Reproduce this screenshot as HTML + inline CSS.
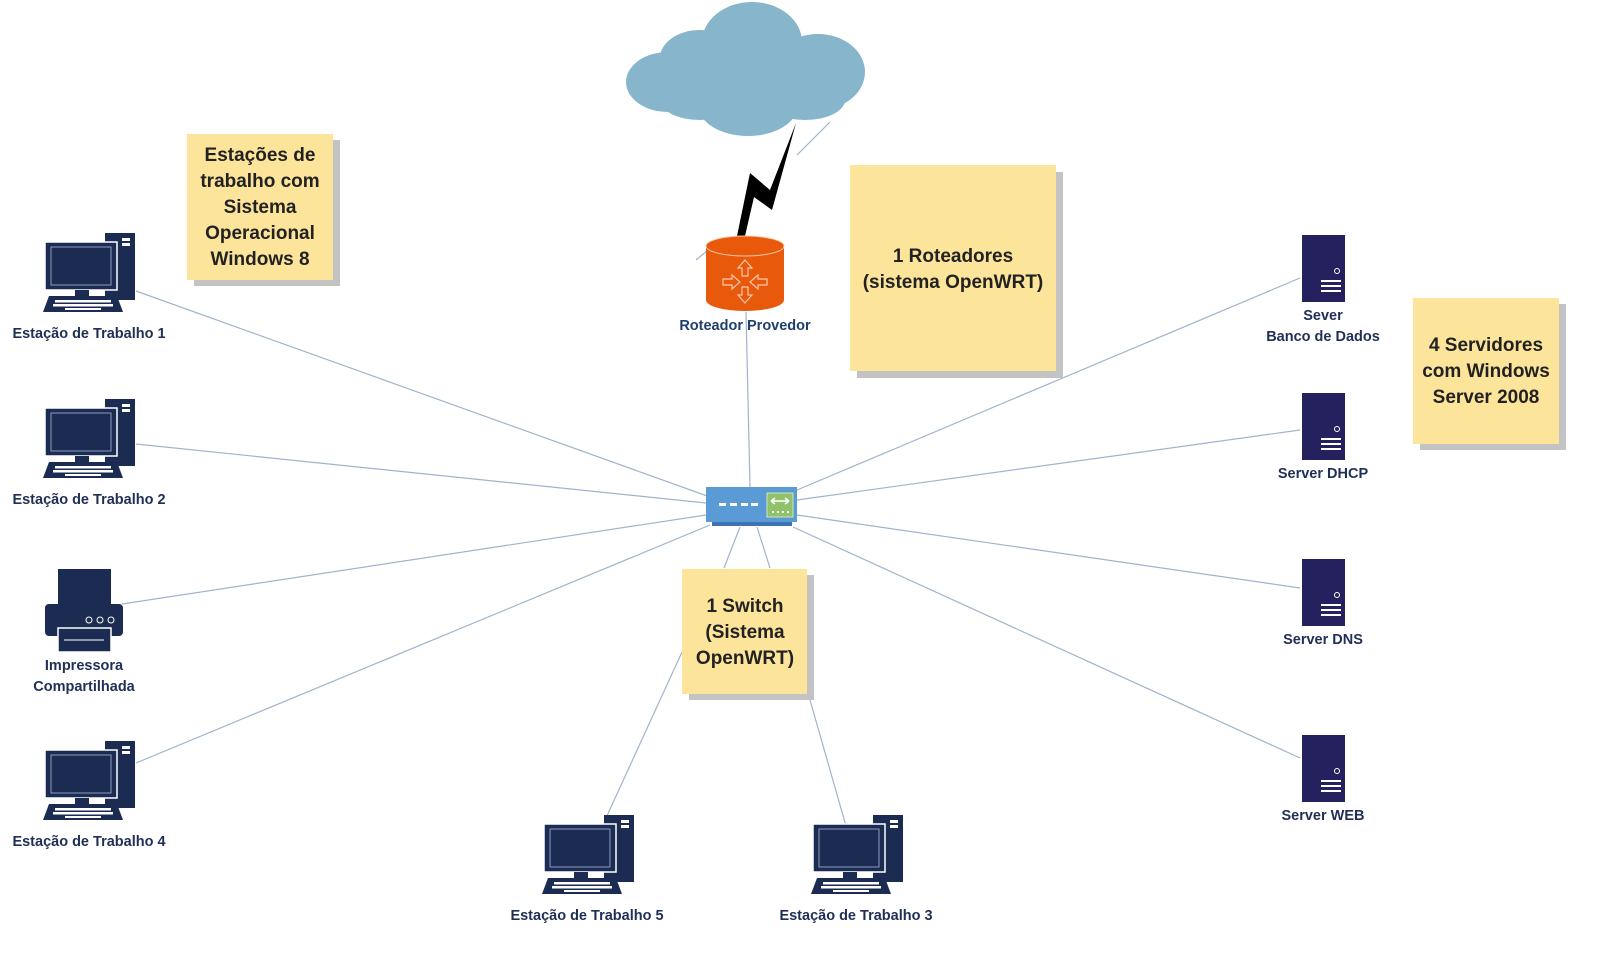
<!DOCTYPE html>
<html><head><meta charset="utf-8"><style>
body{margin:0;background:#fff;width:1600px;height:953px;overflow:hidden;font-family:"Liberation Sans",sans-serif}
svg text{font-family:"Liberation Sans",sans-serif;font-weight:bold}
</style></head><body>
<svg width="1600" height="953" viewBox="0 0 1600 953" xmlns="http://www.w3.org/2000/svg">
<defs>
<g id="pc">
<rect x="60" y="0" width="30" height="67" fill="#1c2b52"/>
<rect x="77" y="5" width="8" height="3" fill="#fff"/><rect x="77" y="10" width="8" height="3" fill="#fff"/>
<rect x="0" y="9" width="72" height="48" fill="#1c2b52" stroke="#fff" stroke-width="1.5"/>
<rect x="6" y="14" width="60" height="38" fill="none" stroke="#8a9bc0" stroke-width="1"/>
<rect x="30" y="57" width="14" height="6" fill="#1c2b52"/>
<path d="M4 63 H72 L78 79 H-2 Z" fill="#1c2b52"/>
<g fill="#fff"><rect x="10" y="67" width="56" height="2.5"/><rect x="8" y="71" width="60" height="2.5"/><rect x="20" y="75" width="36" height="2"/></g>
</g>
<g id="srv">
<rect x="0" y="0" width="43" height="67" fill="#25215f"/>
<circle cx="35" cy="36" r="2.5" fill="none" stroke="#fff" stroke-width="1"/>
<g fill="#fff"><rect x="19" y="45" width="20" height="2"/><rect x="19" y="50" width="20" height="2"/><rect x="19" y="55" width="20" height="2"/></g>
</g>
</defs>
<g stroke="#9fb4cc" stroke-width="1.2" fill="none">
<line x1="136" y1="291" x2="710" y2="497"/>
<line x1="136" y1="444" x2="706" y2="503"/>
<line x1="122" y1="604" x2="706" y2="515"/>
<line x1="136" y1="763" x2="710" y2="525"/>
<line x1="1300" y1="278" x2="797" y2="490"/>
<line x1="1300" y1="430" x2="797" y2="500"/>
<line x1="797" y1="515" x2="1300" y2="588"/>
<line x1="793" y1="527" x2="1300" y2="758"/>
<line x1="750" y1="487" x2="746" y2="312"/>
<line x1="740" y1="527" x2="724" y2="568"/>
<line x1="757" y1="527" x2="770" y2="568"/>
<line x1="682" y1="652" x2="606" y2="818"/>
<line x1="810" y1="700" x2="846" y2="826"/>
<line x1="696" y1="260" x2="720" y2="240"/>
<line x1="797" y1="155" x2="830" y2="122"/>
</g>
<g fill="#87b5cc">
<ellipse cx="668" cy="82" rx="42" ry="30"/>
<ellipse cx="700" cy="58" rx="40" ry="28"/>
<ellipse cx="752" cy="42" rx="50" ry="40"/>
<ellipse cx="818" cy="72" rx="47" ry="38"/>
<ellipse cx="748" cy="105" rx="50" ry="31"/>
<ellipse cx="700" cy="100" rx="40" ry="20"/>
<ellipse cx="805" cy="100" rx="40" ry="20"/>
</g>
<polygon points="796,123 770,190 750,173 737,236 745,236 754,197 772,210" fill="#000"/>
<path d="M706 246 V300 A39 11 0 0 0 784 300 V246 Z" fill="#e8590c"/>
<ellipse cx="745" cy="246" rx="39" ry="10" fill="#e8590c" stroke="#f8c8a8" stroke-width="1"/>
<g stroke="#f8c8a8" fill="none" stroke-width="1.2">
<path d="M745 260 L738 268 H742 V276 H748 V268 H752 Z"/>
<path d="M745 303 L738 295 H742 V287 H748 V295 H752 Z"/>
<path d="M740 282 L732 275 V279 H723 V285 H732 V289 Z"/>
<path d="M750 282 L758 275 V279 H767 V285 H758 V289 Z"/>
</g>
<text x="745" y="330" font-size="14.5" fill="#1f3f6e" text-anchor="middle">Roteador Provedor</text>
<rect x="712" y="521" width="80" height="5" fill="#3d72b5"/>
<rect x="706" y="487" width="91" height="35" fill="#5b9bd5"/>
<rect x="767" y="493" width="26" height="24" fill="#8fc26b" stroke="#cfe6bd"/>
<path d="M771 501 H789 M771 501 l4 -3 M771 501 l4 3 M789 501 l-4 -3 M789 501 l-4 3" stroke="#fff" stroke-width="1.5" fill="none"/>
<g fill="#fff"><rect x="719" y="503" width="7" height="3"/><rect x="730" y="503" width="7" height="3"/><rect x="741" y="503" width="7" height="3"/><rect x="751" y="503" width="7" height="3"/>
<rect x="772" y="511" width="2" height="2"/><rect x="777" y="511" width="2" height="2"/><rect x="782" y="511" width="2" height="2"/><rect x="787" y="511" width="2" height="2"/></g>
<use href="#pc" x="45" y="233"/>
<use href="#pc" x="45" y="399"/>
<use href="#pc" x="45" y="741"/>
<use href="#pc" x="544" y="815"/>
<use href="#pc" x="813" y="815"/>
<rect x="58" y="569" width="53" height="37" fill="#1c2b52"/>
<rect x="45" y="604" width="78" height="32" rx="4" fill="#1c2b52"/>
<rect x="58" y="628" width="53" height="24" fill="#1c2b52" stroke="#fff" stroke-width="1.5"/>
<line x1="64" y1="640" x2="104" y2="640" stroke="#fff"/>
<g fill="none" stroke="#fff"><circle cx="89" cy="620" r="3"/><circle cx="100" cy="620" r="3"/><circle cx="111" cy="620" r="3"/></g>
<use href="#srv" x="1302" y="235"/>
<use href="#srv" x="1302" y="393"/>
<use href="#srv" x="1302" y="559"/>
<use href="#srv" x="1302" y="735"/>
<g font-size="14.5" fill="#1f2f55" text-anchor="middle">
<text x="89" y="338">Estação de Trabalho 1</text>
<text x="89" y="504">Estação de Trabalho 2</text>
<text x="84" y="670">Impressora</text>
<text x="84" y="691">Compartilhada</text>
<text x="89" y="846">Estação de Trabalho 4</text>
<text x="587" y="920">Estação de Trabalho 5</text>
<text x="856" y="920">Estação de Trabalho 3</text>
<text x="1323" y="320">Sever</text>
<text x="1323" y="341">Banco de Dados</text>
<text x="1323" y="478">Server DHCP</text>
<text x="1323" y="644">Server DNS</text>
<text x="1323" y="820">Server WEB</text>
</g>
<g fill="#c3c3c3">
<rect x="194" y="140" width="146" height="146"/>
<rect x="857" y="172" width="206" height="206"/>
<rect x="1420" y="304" width="146" height="146"/>
<rect x="689" y="575" width="125" height="125"/>
</g>
<g fill="#fde49b">
<rect x="187" y="134" width="146" height="146"/>
<rect x="850" y="165" width="206" height="206"/>
<rect x="1413" y="298" width="146" height="146"/>
<rect x="682" y="569" width="125" height="125"/>
</g>
<g font-size="19" fill="#222" text-anchor="middle">
<text x="260" y="161">Estações de</text>
<text x="260" y="187">trabalho com</text>
<text x="260" y="213">Sistema</text>
<text x="260" y="239">Operacional</text>
<text x="260" y="265">Windows 8</text>
<text x="953" y="262">1 Roteadores</text>
<text x="953" y="288">(sistema OpenWRT)</text>
<text x="1486" y="351">4 Servidores</text>
<text x="1486" y="377">com Windows</text>
<text x="1486" y="403">Server 2008</text>
<text x="745" y="612">1 Switch</text>
<text x="745" y="638">(Sistema</text>
<text x="745" y="664">OpenWRT)</text>
</g>
</svg>
</body></html>
